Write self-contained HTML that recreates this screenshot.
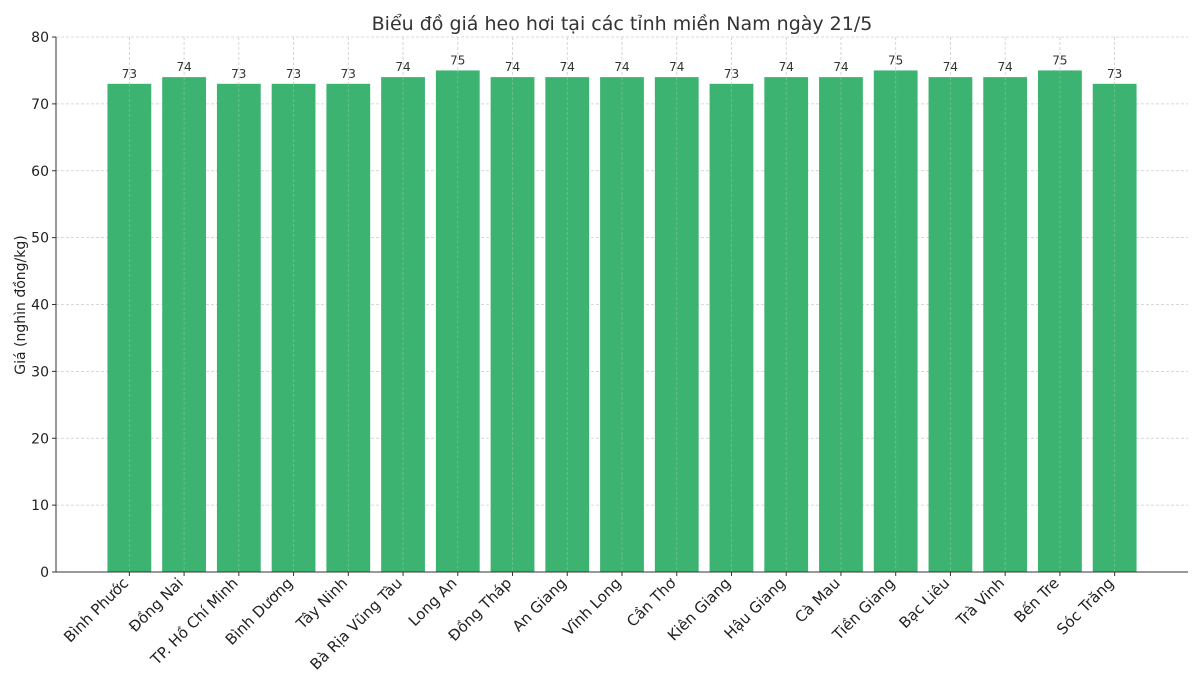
<!DOCTYPE html>
<html><head><meta charset="utf-8"><style>
html,body{margin:0;padding:0;background:#fff;}
svg{display:block;font-family:"DejaVu Sans","Liberation Sans",sans-serif;}
</style></head><body>
<svg id="chart" width="1200" height="686" viewBox="0 0 1200 686" xmlns="http://www.w3.org/2000/svg">
<text x="622" y="30" text-anchor="middle" font-size="19" fill="#333">Biểu đồ giá heo hơi tại các tỉnh miền Nam ngày 21/5</text>
<text transform="translate(25,305) rotate(-90)" text-anchor="middle" font-size="14" fill="#222">Giá (nghìn đồng/kg)</text>
<g id="grid"></g><g id="bars"></g><g id="grid2" opacity="0.35"></g><g id="axes"></g>
</svg>
<script>
const categories = ["Bình Phước","Đồng Nai","TP. Hồ Chí Minh","Bình Dương","Tây Ninh","Bà Rịa  Vũng Tàu","Long An","Đồng Tháp","An Giang","Vĩnh Long","Cần Thơ","Kiên Giang","Hậu Giang","Cà Mau","Tiền Giang","Bạc Liêu","Trà Vinh","Bến Tre","Sóc Trăng"];
const prices = [73,74,73,73,73,74,75,74,74,74,74,73,74,74,75,74,74,75,73];
const yTicks = [0,10,20,30,40,50,60,70,80];

const NS = "http://www.w3.org/2000/svg";
const L = 56, R = 1188, T = 37, B = 572, yMax = 80;
const n = categories.length;
const xMin = -0.4 - 0.05*(n - 1 + 0.8), xMaxV = n - 1 + 0.4 + 0.05*(n - 1 + 0.8);
const xs = i => L + (i - xMin) / (xMaxV - xMin) * (R - L);
const ys = v => B - v / yMax * (B - T);
const step = xs(1) - xs(0), bw = step * 0.8;
function mk(tag, attrs, parent, text){const e=document.createElementNS(NS,tag);for(const k in attrs)e.setAttribute(k,attrs[k]);if(text!==undefined)e.textContent=text;parent.appendChild(e);return e;}
const grid = document.getElementById('grid'), grid2 = document.getElementById('grid2'), bars = document.getElementById('bars'), axes = document.getElementById('axes');
yTicks.forEach(t => {
  const y = ys(t);
  const g = mk('line',{x1:L,x2:R,y1:y,y2:y,stroke:'#ccc','stroke-width':0.8,'stroke-dasharray':'3,2'},grid);
  
  
  const tk = mk('line',{x1:L-4,x2:L,y1:y,y2:y,stroke:'#333'},axes);
  
  
  const lb = mk('text',{x:L-7,y:y+5,'text-anchor':'end','font-size':14,fill:'#222'},axes,t);
  
  
});
categories.forEach((c,i) => {
  const cx = xs(i);
  const r = mk('rect',{x:cx-bw/2,y:ys(prices[i]),width:bw,height:B-ys(prices[i]),fill:'#3cb371'},bars);
  
  
  const vg = mk('line',{x1:cx,x2:cx,y1:T,y2:B,stroke:'#ccc','stroke-width':0.8,'stroke-dasharray':'3,2'},grid);
  
  
  const vg2 = mk('line',{x1:cx,x2:cx,y1:ys(prices[i]),y2:B,stroke:'#ddd','stroke-width':0.8,'stroke-dasharray':'3,2'},grid2);
  
  
  const v = mk('text',{x:cx,y:ys(prices[i])-6,'text-anchor':'middle','font-size':12,fill:'#333'},bars,prices[i]);
  
  
  const tk = mk('line',{x1:cx,x2:cx,y1:B,y2:B+4,stroke:'#333'},axes);
  
  
  const lb = mk('text',{transform:`translate(${cx},${B+12}) rotate(-45)`,'text-anchor':'end','font-size':15,fill:'#222'},axes,c);
  
  
});
const ya = mk('line',{x1:L,x2:L,y1:T,y2:B,stroke:'#333','stroke-width':1},axes);


const xa = mk('line',{x1:L,x2:R,y1:B,y2:B,stroke:'#333','stroke-width':1},axes);


</script>
</body></html>
